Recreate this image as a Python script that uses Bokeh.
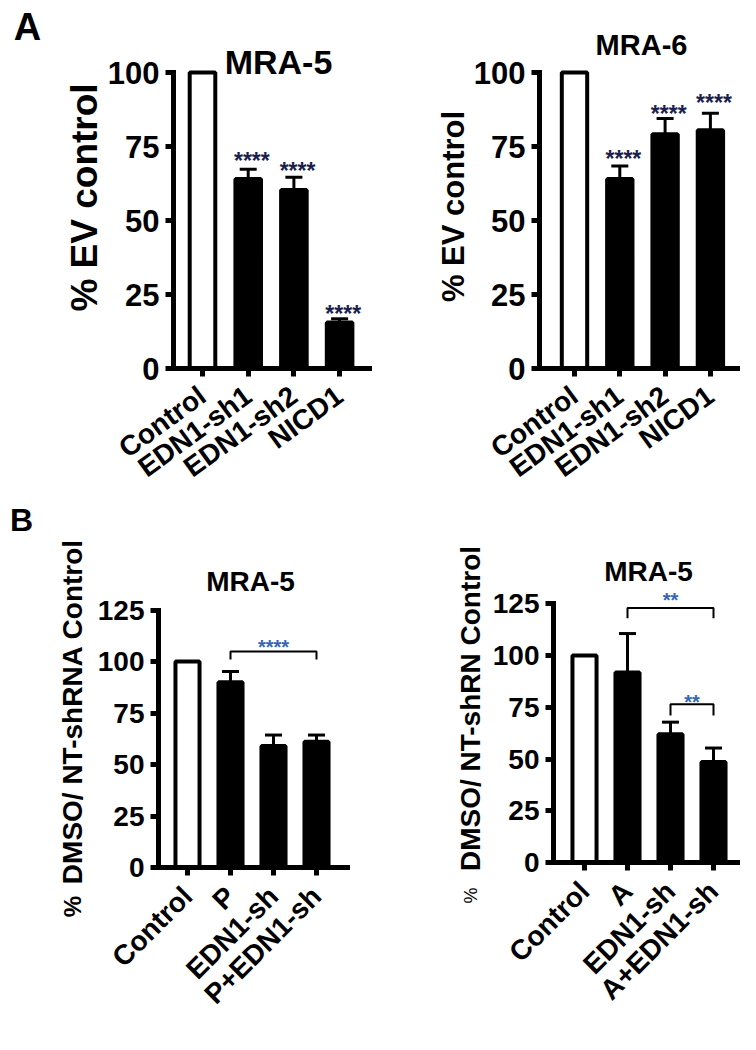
from math import pi
from bokeh.plotting import figure
from bokeh.models import Label, FixedTicker, Range1d, ColumnDataSource
from bokeh.layouts import row, column
from bokeh.core.properties import value
from bokeh.embed import file_html
from bokeh.resources import INLINE

FONT = "Liberation Sans"

# ---------------- data ----------------
a5_cats = ["Control", "EDN1-sh1", "EDN1-sh2", "NICD1"]
a5_vals = [100, 64.0, 60.3, 15.5]
a5_errs = [0, 3.3, 4.3, 1.3]
a5_stars = ["", "****", "****", "****"]
a5_star_y = [0, 72.0, 68.6, 20.3]

a6_cats = ["Control", "EDN1-sh1", "EDN1-sh2", "NICD1"]
a6_vals = [100, 64.0, 79.1, 80.5]
a6_errs = [0, 4.4, 5.4, 5.7]
a6_stars = ["", "****", "****", "****"]
a6_star_y = [0, 72.6, 87.8, 91.6]

bp_cats = ["Control", "P", "EDN1-sh", "P+EDN1-sh"]
bp_vals = [100, 89.9, 59.0, 61.0]
bp_errs = [0, 5.3, 5.3, 3.3]
bp_br_from = [1]
bp_br_to = [3]
bp_br_y = [104.8]
bp_br_drop = [101.0]
bp_br_text = ["****"]
bp_br_text_y = [109.2]

ba_cats = ["Control", "A", "EDN1-sh", "A+EDN1-sh"]
ba_vals = [100, 91.8, 62.0, 48.6]
ba_errs = [0, 18.8, 5.8, 6.7]
ba_br_from = [1, 2]
ba_br_to = [3, 3]
ba_br_y = [123.0, 76.4]
ba_br_drop = [118.0, 71.0]
ba_br_text = ["**", "**"]
ba_br_text_y = [129.0, 79.7]

a_ticks = [0, 25, 50, 75, 100]
b_ticks = [0, 25, 50, 75, 100, 125]


def build(cats, vals, errs, yticks, g):
    ox, oy, W, H = g["ox"], g["oy"], g["W"], g["H"]
    c0, sp, ppu, y0 = g["c0"], g["sp"], g["ppu"], g["y0"]

    def X(px):
        return (px - c0) / sp

    def Y(py):
        return (y0 - py) / ppu

    p = figure(width=W, height=H,
               x_range=Range1d(X(ox), X(ox + W)), y_range=Range1d(Y(oy + H), Y(oy)),
               min_border=0, min_border_left=0, min_border_right=0,
               min_border_top=0, min_border_bottom=0,
               toolbar_location=None, tools="", output_backend="svg",
               background_fill_color="white", border_fill_color="white")
    p.xgrid.visible = False
    p.ygrid.visible = False
    p.outline_line_color = None

    n = len(cats)
    idx = list(range(n))
    fills = ["white"] + ["black"] * (n - 1)
    src = ColumnDataSource(dict(x=idx, top=vals, fill=fills))
    p.vbar(x="x", top="top", bottom=0, width=g["bw"], fill_color="fill",
           line_color="black", line_width=4, source=src)

    ex = [i for i in idx if errs[i] > 0]
    lo = [vals[i] for i in ex]
    hi = [vals[i] + errs[i] for i in ex]
    p.segment(x0=ex, y0=lo, x1=ex, y1=hi, line_color="black", line_width=3)
    cw = g["cap"] / sp
    p.segment(x0=[i - cw / 2 for i in ex], y0=hi, x1=[i + cw / 2 for i in ex], y1=hi,
              line_color="black", line_width=3)

    for ax in (p.xaxis[0], p.yaxis[0]):
        ax.axis_line_width = 5
        ax.axis_line_color = "black"
        ax.axis_line_cap = "square"
        ax.major_tick_line_width = 5
        ax.major_tick_line_color = "black"
        ax.major_tick_out = 8
        ax.major_tick_in = 0
        ax.minor_tick_line_color = None
        ax.major_label_text_font = FONT
        ax.major_label_text_font_style = "bold"
        ax.major_label_text_color = "black"
    p.yaxis.fixed_location = X(g["ax"])
    p.yaxis.ticker = FixedTicker(ticks=yticks)
    p.yaxis.bounds = (0, yticks[-1])
    p.yaxis.major_label_text_font_size = g["ytfs"]
    p.yaxis.major_label_standoff = g["ystand"]
    p.xaxis.fixed_location = 0
    p.xaxis.bounds = (X(g["ax"]), X(g["ar"]))
    p.xaxis.ticker = FixedTicker(ticks=idx)
    p.xaxis.major_label_overrides = {i: c for i, c in enumerate(cats)}
    p.xaxis.major_label_orientation = g["xangle"]
    p.xaxis.major_label_text_font_size = g["xtfs"]
    p.xaxis.major_label_standoff = g["xstand"]

    def lab(px, py, text, size, bold=True, angle=0.0, color="black"):
        p.add_layout(Label(x=X(px), y=Y(py), text=text, text_font=FONT,
                           text_font_size=f"{size}px",
                           text_font_style="bold" if bold else "normal",
                           text_align="center", text_baseline="middle",
                           angle=angle, text_color=color))

    return p, lab


def add_stars(p, xs_, ys_, texts, size, color, ppu):
    off = 0.23 * size / ppu
    p.text(x=xs_, y=[y - off for y in ys_], text=texts, text_font=value(FONT),
           text_font_size=f"{size}px", text_font_style="bold", text_color=color,
           text_align="center", text_baseline="middle")


def add_brackets(p, x0s, x1s, ys, drops, texts, text_ys, size, color, ppu):
    p.multi_line(xs=[[a, a, b, b] for a, b in zip(x0s, x1s)],
                 ys=[[d, y, y, d] for y, d in zip(ys, drops)],
                 line_color="black", line_width=2)
    add_stars(p, [(a + b) / 2 for a, b in zip(x0s, x1s)], text_ys, texts, size, color, ppu)


TOP_H = 500
BOT_H = 534

# ---------------- Panel A, MRA-5 ----------------
gA1 = dict(ox=0, oy=0, W=372, H=TOP_H, ax=173, ar=370, y0=368,
           c0=202, sp=45.7, ppu=2.96, bw=0.56, cap=17,
           ytfs="31px", ystand=6, xtfs="28px", xstand=16, xangle=0.63)
pA1, labA1 = build(a5_cats, a5_vals, a5_errs, a_ticks, gA1)
sel = [i for i, s in enumerate(a5_stars) if s]
add_stars(pA1, [i + 0.08 for i in sel], [a5_star_y[i] for i in sel],
          [a5_stars[i] for i in sel], 23, "#1c1f4d", gA1["ppu"])
labA1(278, 61, "MRA-5", 34)
labA1(84, 197, "% EV control", 37, angle=pi / 2)
labA1(27, 26, "A", 38)

# ---------------- Panel A, MRA-6 ----------------
gA2 = dict(ox=372, oy=0, W=368, H=TOP_H, ax=539, ar=737, y0=368,
           c0=574, sp=45.3, ppu=2.96, bw=0.56, cap=17,
           ytfs="31px", ystand=6, xtfs="28px", xstand=16, xangle=0.63)
pA2, labA2 = build(a6_cats, a6_vals, a6_errs, a_ticks, gA2)
sel = [i for i, s in enumerate(a6_stars) if s]
add_stars(pA2, [i + 0.08 for i in sel], [a6_star_y[i] for i in sel],
          [a6_stars[i] for i in sel], 23, "#1c1f4d", gA2["ppu"])
labA2(641, 44, "MRA-6", 29)
labA2(453, 206, "% EV control", 31, angle=pi / 2)

# ---------------- Panel B, MRA-5 (P) ----------------
gB1 = dict(ox=0, oy=TOP_H, W=372, H=BOT_H, ax=158, ar=347, y0=867,
           c0=187, sp=43.0, ppu=2.06, bw=0.56, cap=17,
           ytfs="28px", ystand=6, xtfs="28px", xstand=16, xangle=pi / 4)
pB1, labB1 = build(bp_cats, bp_vals, bp_errs, b_ticks, gB1)
add_brackets(pB1, bp_br_from, bp_br_to, bp_br_y, bp_br_drop, bp_br_text, bp_br_text_y,
             20, "#3565b5", gB1["ppu"])
labB1(250, 581, "MRA-5", 28)
labB1(72, 711, "DMSO/ NT-shRNA Control", 28, angle=pi / 2)
labB1(72, 906, "%", 24, angle=pi / 2)
labB1(21, 519, "B", 32)

# ---------------- Panel B, MRA-5 (A) ----------------
gB2 = dict(ox=372, oy=TOP_H, W=368, H=BOT_H, ax=553, ar=737, y0=862,
           c0=584, sp=43.0, ppu=2.07, bw=0.56, cap=17,
           ytfs="28px", ystand=6, xtfs="28px", xstand=16, xangle=pi / 4)
pB2, labB2 = build(ba_cats, ba_vals, ba_errs, b_ticks, gB2)
add_brackets(pB2, ba_br_from, ba_br_to, ba_br_y, ba_br_drop, ba_br_text, ba_br_text_y,
             20, "#3565b5", gB2["ppu"])
labB2(648, 571, "MRA-5", 28)
labB2(470, 708, "DMSO/ NT-shRN Control", 28, angle=pi / 2)
labB2(470, 895, "%", 18, bold=False, angle=pi / 2)

layout = column(row(pA1, pA2), row(pB1, pB2))
open("out.html", "w").write(file_html(layout, INLINE))
